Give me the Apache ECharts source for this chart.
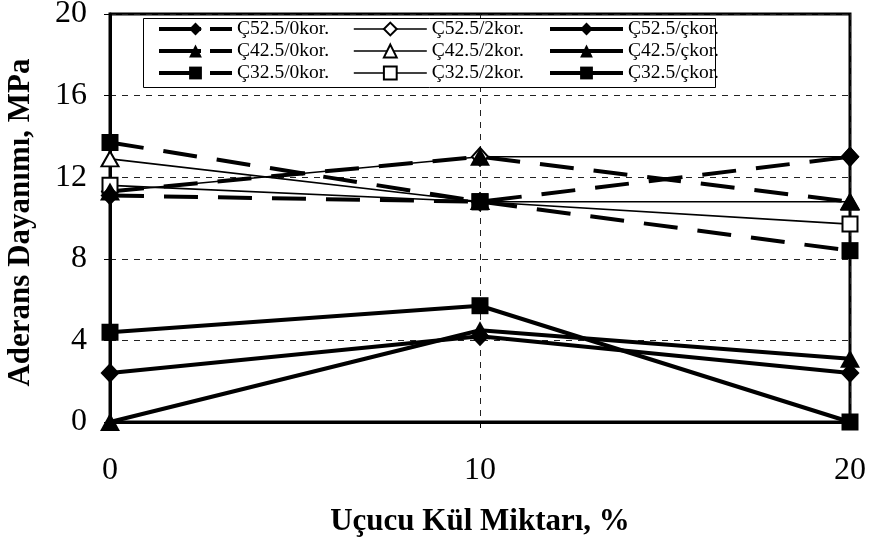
<!DOCTYPE html>
<html><head><meta charset="utf-8">
<script src="https://cdn.jsdelivr.net/npm/echarts@6/dist/echarts.min.js"></script>
<style>html,body{margin:0;padding:0;background:#fff}#c{width:877px;height:547px}</style>
</head><body><div id="c"></div>
<script>
const xValues = [0, 10, 20];
const xTicks = ['0', '10', '20'];
const yTicks = ['0', '4', '8', '12', '16', '20'];

// 2 cycles (thin solid, open markers)
const c525_2kor = [11.3, 13.0, 13.0];
const c425_2kor = [12.9, 10.8, 10.8];
const c325_2kor = [11.6, 10.8, 9.7];
// 0 cycles (thick dashed, filled markers)
const c425_0kor = [11.3, 13.0, 10.8];
const c525_0kor = [11.1, 10.8, 13.0];
const c325_0kor = [13.7, 10.8, 8.4];
// çkor (thick solid, filled markers)
const c525_ckor = [2.4, 4.2, 2.4];
const c425_ckor = [0.0, 4.5, 3.1];
const c325_ckor = [4.4, 5.7, 0.0];

const names = {
  c525_0kor: 'Ç52.5/0kor.', c425_0kor: 'Ç42.5/0kor.', c325_0kor: 'Ç32.5/0kor.',
  c525_2kor: 'Ç52.5/2kor.', c425_2kor: 'Ç42.5/2kor.', c325_2kor: 'Ç32.5/2kor.',
  c525_ckor: 'Ç52.5/çkor.', c425_ckor: 'Ç42.5/çkor.', c325_ckor: 'Ç32.5/çkor.'
};

const FONT = 'Liberation Serif';
const SYM = {
  d: {symbol: 'diamond', size: [19, 20]},
  t: {symbol: 'triangle', size: [20, 18]},
  s: {symbol: 'rect', size: [17, 17]},
  od: {symbol: 'emptyDiamond', size: [16, 18]},
  ot: {symbol: 'emptyTriangle', size: [17, 15]},
  os: {symbol: 'emptyRect', size: [15, 15]}
};
const KIND = {};

function mk(name, vals, sym, kind) {
  KIND[name] = kind;
  const lw = kind === 'thin' ? 1.6 : 4;
  return {
    name: name, type: 'line',
    data: vals.map((v, i) => [xValues[i], v]),
    symbol: SYM[sym].symbol, symbolSize: SYM[sym].size, showSymbol: true,
    lineStyle: {color: '#000', width: lw, type: kind === 'dash' ? [34, 20] : 'solid'},
    itemStyle: {color: '#000', borderColor: '#000', borderWidth: kind === 'thin' ? 2 : 0},
    emphasis: {disabled: true}, animation: false
  };
}

const series = [
  mk(names.c525_2kor, c525_2kor, 'od', 'thin'),
  mk(names.c425_2kor, c425_2kor, 'ot', 'thin'),
  mk(names.c325_2kor, c325_2kor, 'os', 'thin'),
  mk(names.c425_0kor, c425_0kor, 't', 'dash'),
  mk(names.c525_0kor, c525_0kor, 'd', 'dash'),
  mk(names.c325_0kor, c325_0kor, 's', 'dash'),
  mk(names.c525_ckor, c525_ckor, 'd', 'thick'),
  mk(names.c425_ckor, c425_ckor, 't', 'thick'),
  mk(names.c325_ckor, c325_ckor, 's', 'thick')
];

const legendCols = [
  [names.c525_0kor, names.c425_0kor, names.c325_0kor],
  [names.c525_2kor, names.c425_2kor, names.c325_2kor],
  [names.c525_ckor, names.c425_ckor, names.c325_ckor]
];
const legendLeft = [157, 353, 548];

function legendItem(n) {
  const k = KIND[n];
  return {
    name: n,
    lineStyle: {color: '#000', width: k === 'thin' ? 1.6 : 4, type: k === 'dash' ? [42, 9] : 'solid'}
  };
}

const chart = echarts.init(document.getElementById('c'), null, {renderer: 'canvas'});
chart.setOption({
  animation: false,
  backgroundColor: '#fff',
  textStyle: {fontFamily: FONT, color: '#000'},
  grid: {left: 110, right: 27, top: 14, bottom: 125, show: true, borderColor: '#000', borderWidth: 3, containLabel: false, outerBoundsMode: 'none'},
  graphic: [{type: 'rect', z: 3, shape: {x: 143.5, y: 18.5, width: 572, height: 69}, style: {fill: '#fff', stroke: '#000', lineWidth: 1}}],
  legend: legendCols.map((d, i) => ({
    data: d.map(legendItem), orient: 'vertical', left: legendLeft[i], top: 18, z: 5,
    itemWidth: 73, itemHeight: 16, itemGap: 0, padding: 0, selectedMode: false,
    textStyle: {fontFamily: FONT, fontSize: 19.5, color: '#000', lineHeight: 22}
  })),
  xAxis: {
    type: 'value', min: 0, max: 20, interval: 10,
    name: 'Uçucu Kül Miktarı, %', nameLocation: 'middle', nameGap: 84,
    nameTextStyle: {fontFamily: FONT, fontSize: 31, fontWeight: 'bold', color: '#000'},
    axisLine: {show: true, onZero: false, lineStyle: {color: '#000', width: 3}},
    axisTick: {show: true, inside: false, length: 6, lineStyle: {color: '#000', width: 1}},
    axisLabel: {fontFamily: FONT, fontSize: 32, color: '#000', margin: 33, formatter: v => xTicks[xValues.indexOf(v)]},
    splitLine: {show: true, lineStyle: {color: '#222', width: 1, type: [6, 6]}}
  },
  yAxis: {
    type: 'value', min: 0, max: 20, interval: 4,
    name: 'Aderans Dayanımı, MPa', nameLocation: 'middle', nameGap: 74,
    nameTextStyle: {fontFamily: FONT, fontSize: 31, fontWeight: 'bold', color: '#000', padding: [0, 9, 0, 0]},
    axisLine: {show: true, lineStyle: {color: '#000', width: 3}},
    axisTick: {show: true, inside: false, length: 6, lineStyle: {color: '#000', width: 1}},
    axisLabel: {fontFamily: FONT, fontSize: 32, color: '#000', margin: 23, formatter: v => yTicks[v / 4]},
    splitLine: {show: true, lineStyle: {color: '#222', width: 1, type: [6, 6]}}
  },
  series: series
});
</script>
</body></html>
